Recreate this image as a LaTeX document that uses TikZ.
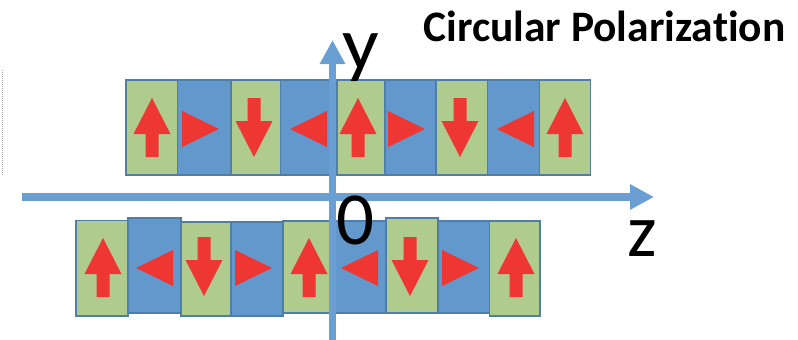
\documentclass[tikz,border=0pt]{standalone}
\usepackage{fontspec}
\setmainfont{Carlito}[Ligatures=NoCommon]
\usetikzlibrary{arrows.meta}
\definecolor{cellblue}{HTML}{6398CD}
\definecolor{cellgreen}{HTML}{B0CB8E}
\definecolor{cellline}{HTML}{4F7FA8}
\definecolor{magred}{HTML}{EE3733}
\definecolor{axisblue}{HTML}{6A9FD3}
\tikzset{
  x=1pt,y=-1pt,
  cell/.style={draw=cellline,line width=1.6pt},
  gcell/.style={cell,fill=cellgreen},
  bcell/.style={cell,fill=cellblue},
  axisline/.style={draw=axisblue,line width=7.5pt,-{Triangle[length=24pt,width=24pt]}},
  axislabel/.style={font=\fontsize{75}{75}\selectfont,inner sep=0pt,text=black},
}
% cell: name, x0, x1, y0, y1, style
\newcommand{\mcell}[6]{\path[#6] (#2,#4) rectangle (#3,#5);\coordinate (#1) at ({(#2+#3)/2},{(#4+#5)/2});}
% arrows: centre x, top y
\newcommand{\uparr}[2]{\fill[magred] (#1,#2) -- ++(18.5,36) -- ++(-12,0) -- ++(0,23) -- ++(-13,0) -- ++(0,-23) -- ++(-12,0) -- cycle;}
\newcommand{\downarr}[2]{\fill[magred] (#1-6.5,#2) -- ++(13,0) -- ++(0,23) -- ++(12,0) -- ++(-18.5,36) -- ++(-18.5,-36) -- ++(12,0) -- cycle;}
\newcommand{\rightarr}[2]{\fill[magred] (#1,#2-18) -- ++(37,18) -- ++(-37,18) -- cycle;}
\newcommand{\leftarr}[2]{\fill[magred] (#1,#2) -- ++(37,-18) -- ++(0,36) -- cycle;}
\begin{document}
\begin{tikzpicture}
\useasboundingbox (0,0) rectangle (798,340);
\draw[gray!70,line width=1pt,densely dotted] (2,70) -- (2,175);
% top row
\mcell{t1}{126}{177.5}{80}{175}{gcell}
\mcell{t2}{177.5}{231}{80}{175}{bcell}
\mcell{t3}{231}{280.5}{80}{175}{gcell}
\mcell{t4}{280.5}{337}{80}{175}{bcell}
\mcell{t5}{337}{385}{80}{175}{gcell}
\mcell{t6}{385}{436}{80}{175}{bcell}
\mcell{t7}{436}{487.5}{80}{175}{gcell}
\mcell{t8}{487.5}{539.5}{80}{175}{bcell}
\mcell{t9}{539.5}{590.5}{80}{175}{gcell}
% bottom row
\mcell{b1}{76}{128}{220.5}{316}{gcell}
\mcell{b3}{181}{231}{222}{316}{gcell}
\mcell{b2}{128}{181}{218}{313}{bcell}
\mcell{b4}{231}{283}{222}{316}{bcell}
\mcell{b5}{283}{332}{221}{313}{gcell}
\mcell{b6}{332}{386}{221}{313}{bcell}
\mcell{b8}{438}{489.5}{221}{313}{bcell}
\mcell{b7}{386}{438}{218}{313}{gcell}
\mcell{b9}{489.5}{540}{221}{316}{gcell}
% top arrows
\uparr{152}{98}
\rightarr{182}{129}
\downarr{254}{98}
\leftarr{290}{129}
\uparr{358}{98}
\rightarr{388}{129}
\downarr{460}{98}
\leftarr{497}{129}
\uparr{565}{98}
% bottom arrows
\uparr{103}{238}
\leftarr{136}{268}
\downarr{204}{237}
\rightarr{235}{268}
\uparr{309}{238}
\leftarr{341}{268}
\downarr{410}{237}
\rightarr{442}{268}
\uparr{516}{238}
% axes
\coordinate (zs) at (22,197);
\coordinate (ze) at (654,197);
\coordinate (ys) at (332.5,340);
\coordinate (ye) at (332.5,40);
\draw[axisline] (zs) -- (ze);
\draw[axisline] (ys) -- (ye);
% labels
\node[axislabel,anchor=base,xscale=1.08,transform shape] (ylab) at (361,69) {y};
\node[axislabel,anchor=base] (olab) at (356,244) {0};
\node[axislabel,anchor=base] (zlab) at (642,256) {z};
\node[font=\fontsize{43.5}{43.5}\selectfont\bfseries,inner sep=0pt,anchor=base] (title) at (604.5,41) {Circular Polarization};
\end{tikzpicture}
\end{document}
